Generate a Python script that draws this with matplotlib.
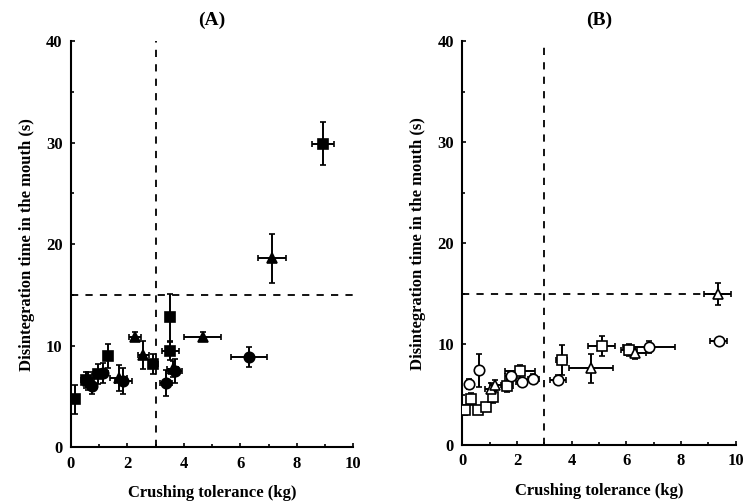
import matplotlib.pyplot as plt

plt.rcParams['font.family'] = ['Liberation Serif', 'DejaVu Serif']
plt.rcParams['font.weight'] = 'bold'

# ---- panel A (filled markers) ----
a_sq_x = [0.14, 0.55, 0.95, 1.32, 2.92, 3.51, 3.51, 8.92]
a_sq_y = [4.7, 6.6, 7.2, 9.0, 8.2, 12.8, 9.5, 29.9]
a_sq_xe = [0.1, 0.2, 0.2, 0.15, 0.15, 0.15, 0.3, 0.4]
a_sq_ye = [1.4, 0.8, 1.0, 1.2, 1.0, 2.3, 0.9, 2.1]

a_ci_x = [0.75, 1.15, 1.85, 3.37, 3.7, 6.3]
a_ci_y = [6.0, 7.3, 6.5, 6.3, 7.5, 8.9]
a_ci_xe = [0.15, 0.15, 0.3, 0.2, 0.25, 0.65]
a_ci_ye = [0.8, 1.0, 1.3, 1.3, 1.2, 1.0]

a_tr_x = [0.6, 1.7, 2.27, 2.56, 3.6, 4.66, 7.12]
a_tr_y = [6.5, 6.8, 10.9, 9.1, 7.7, 10.9, 18.6]
a_tr_xe = [0.2, 0.3, 0.2, 0.2, 0.2, 0.65, 0.5]
a_tr_ye = [0.9, 1.3, 0.4, 1.4, 0.8, 0.4, 2.4]

# ---- panel B (open markers) ----
b_sq_x = [0.11, 0.32, 0.56, 0.86, 1.12, 1.64, 2.11, 3.63, 5.1, 6.1]
b_sq_y = [3.5, 4.6, 3.5, 3.8, 4.8, 5.9, 7.3, 8.4, 9.8, 9.4]
b_sq_xe = [0.1, 0.15, 0.15, 0.15, 0.15, 0.2, 0.55, 0.2, 0.5, 0.3]
b_sq_ye = [0.5, 0.6, 0.4, 0.4, 0.6, 0.6, 0.6, 1.5, 1.0, 0.6]

b_ci_x = [0.24, 0.62, 1.76, 2.17, 2.59, 3.49, 6.83, 9.37]
b_ci_y = [6.1, 7.4, 6.8, 6.3, 6.6, 6.5, 9.7, 10.3]
b_ci_xe = [0.1, 0.1, 0.2, 0.2, 0.2, 0.3, 0.95, 0.3]
b_ci_ye = [0.5, 1.6, 0.5, 0.4, 0.4, 0.4, 0.6, 0.3]

b_tr_x = [1.04, 1.2, 4.7, 6.33, 9.34]
b_tr_y = [5.6, 6.0, 7.6, 9.1, 14.95]
b_tr_xe = [0.2, 0.2, 0.8, 0.4, 0.5]
b_tr_ye = [0.6, 0.5, 1.4, 0.6, 1.1]

x_ticks = [0, 2, 4, 6, 8, 10]
y_ticks = [0, 10, 20, 30, 40]

fig = plt.figure(figsize=(7.47, 5.03), dpi=100)
axA = fig.add_axes([0.095, 0.111, 0.378, 0.807])
axB = fig.add_axes([0.619, 0.115, 0.366, 0.803])


def panel(ax, series, fill, title):
    ax.plot([3, 3], [0, 40], ls=(0, (4, 4)), color='black', lw=1.3, zorder=1)
    ax.plot([0, 10], [15, 15], ls=(0, (4, 4)), color='black', lw=1.3, zorder=1)
    for x, y, xe, ye, m, ms in series:
        ax.errorbar(x, y, xerr=xe, yerr=ye, fmt=m, ms=ms, color='black',
                    mfc='black' if fill else 'white', mec='black', mew=1.2,
                    ecolor='black', elinewidth=1.4, capsize=2.5, capthick=1.2,
                    zorder=3)
    ax.set_xlim(0, 10)
    ax.set_ylim(0, 40)
    ax.set_xticks(x_ticks)
    ax.set_yticks(y_ticks)
    ax.set_xticks(range(11), minor=True)
    ax.set_yticks(range(0, 41, 5), minor=True)
    ax.tick_params(direction='in', length=3, width=1.2, labelsize=12, pad=6)
    ax.tick_params(which='minor', direction='in', length=2, width=1.2)
    for s in ['top', 'right']:
        ax.spines[s].set_visible(False)
    for s in ['left', 'bottom']:
        ax.spines[s].set_linewidth(1.5)
    for lab in ax.get_xticklabels() + ax.get_yticklabels():
        lab.set_fontweight('bold')
    ax.set_xlabel('Crushing tolerance (kg)', fontsize=12, fontweight='bold', labelpad=10)
    ax.set_ylabel('Disintegration time in the mouth (s)', fontsize=12,
                  fontweight='bold', labelpad=8)
    ax.set_title(title, fontsize=14, fontweight='bold', pad=12)


panel(axA, [(a_sq_x, a_sq_y, a_sq_xe, a_sq_ye, 's', 7.5),
            (a_ci_x, a_ci_y, a_ci_xe, a_ci_ye, 'o', 7.5),
            (a_tr_x, a_tr_y, a_tr_xe, a_tr_ye, '^', 7)], True, '(A)')
panel(axB, [(b_sq_x, b_sq_y, b_sq_xe, b_sq_ye, 's', 7.5),
            (b_ci_x, b_ci_y, b_ci_xe, b_ci_ye, 'o', 7.5),
            (b_tr_x, b_tr_y, b_tr_xe, b_tr_ye, '^', 7)], False, '(B)')

fig.savefig('out.png', dpi=100)
